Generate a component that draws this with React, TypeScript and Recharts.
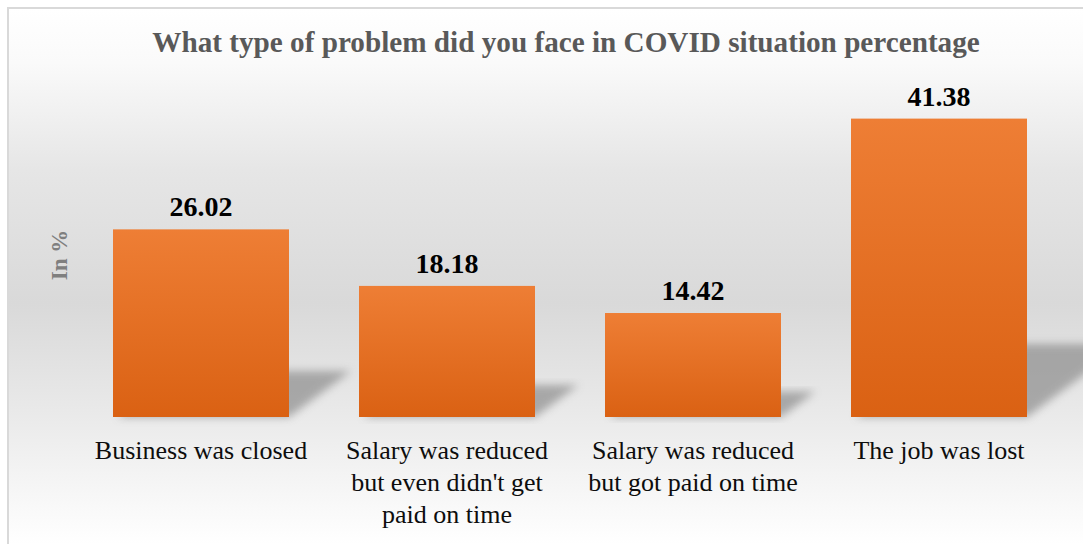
import React from "react";
import { BarChart, Bar, XAxis, YAxis, LabelList } from "recharts";

// problem types and share of respondents (%)
const categories = [
  "Business was closed",
  "Salary was reduced but even didn't get paid on time",
  "Salary was reduced but got paid on time",
  "The job was lost",
];
const percentages = [26.02, 18.18, 14.42, 41.38];

const data = categories.map((name, i) => ({ name, value: percentages[i] }));

const FONT = "'Liberation Serif', 'Times New Roman', serif";

// greedy word wrap, ~20 chars per line
const wrap = (text: string, max = 20): string[] => {
  const lines: string[] = [];
  let cur = "";
  text.split(" ").forEach((w) => {
    const next = cur ? cur + " " + w : w;
    if (next.length > max && cur) {
      lines.push(cur);
      cur = w;
    } else {
      cur = next;
    }
  });
  if (cur) lines.push(cur);
  return lines;
};

const CategoryTick = ({ x, y, payload }: any) => {
  const lines = wrap(payload.value);
  return (
    <text x={x} y={y} textAnchor="middle" fontFamily={FONT} fontSize={26} fill="#0d0d0d">
      {lines.map((l, i) => (
        <tspan key={i} x={x} dy={i === 0 ? 34 : 32}>
          {l}
        </tspan>
      ))}
    </text>
  );
};

// bar with a perspective shadow falling back to the right
const ShadowBar = (props: any) => {
  const { x, y, width, height } = props;
  if (!height) return null;
  const base = y + height;
  const dx = height * 0.33;
  const dy = height * 0.245;
  const pts = [
    [x + 4, base],
    [x + width, base],
    [x + width + dx, base - dy],
    [x + dx + 4, base - dy],
  ]
    .map((p) => p.join(","))
    .join(" ");
  return (
    <g>
      <polygon points={pts} fill="#8c8c8c" opacity={0.7} filter="url(#shadowBlur)" />
      <rect x={x} y={y} width={width} height={height} fill="url(#barGrad)" />
    </g>
  );
};

export default function App() {
  return (
    <div>
      <style>{"body{margin:0;overflow:hidden}"}</style>
      <svg width={0} height={0} style={{ position: "absolute" }}>
        <defs>
          <linearGradient id="barGrad" x1="0" y1="0" x2="0" y2="1">
            <stop offset="0%" stopColor="#ee7e35" />
            <stop offset="100%" stopColor="#da6113" />
          </linearGradient>
          <filter id="shadowBlur" x="-20%" y="-20%" width="140%" height="140%">
            <feGaussianBlur stdDeviation="4" />
          </filter>
        </defs>
      </svg>
      <div
        style={{
          position: "absolute",
          left: 7,
          top: 7,
          width: 1074,
          height: 535,
          borderTop: "2px solid #d9d9d9",
          borderLeft: "2px solid #d9d9d9",
          background:
            "linear-gradient(to bottom, #ffffff 0%, #fafafa 10%, #e6e6e6 30%, #d9d9d9 55%, #e9e9e9 75%, #ffffff 100%)",
        }}
      >
        <div
          style={{
            position: "absolute",
            left: 0,
            width: 1114,
            top: 17,
            textAlign: "center",
            fontFamily: FONT,
            fontWeight: "bold",
            fontSize: 29.2,
            color: "#595959",
          }}
        >
          What type of problem did you face in COVID situation percentage
        </div>
        <div
          style={{
            position: "absolute",
            left: 51 - 40,
            top: 246 - 15,
            width: 80,
            height: 30,
            lineHeight: "30px",
            textAlign: "center",
            transform: "rotate(-90deg)",
            fontFamily: FONT,
            fontWeight: "bold",
            fontSize: 23,
            color: "#7f7f7f",
          }}
        >
          In %
        </div>
        <BarChart
          width={1074}
          height={535}
          data={data}
          margin={{ top: 83.5, right: 21, bottom: 8, left: 69 }}
          style={{ position: "absolute", left: 0, top: 0 }}
        >
          <YAxis hide domain={[0, 45]} />
          <XAxis
            dataKey="name"
            axisLine={false}
            tickLine={false}
            interval={0}
            height={119}
            tick={<CategoryTick />}
          />
          <Bar
            dataKey="value"
            barSize={176}
            shape={<ShadowBar />}
            isAnimationActive={false}
          >
            <LabelList
              dataKey="value"
              position="top"
              offset={13}
              fontFamily={FONT}
              fontWeight="bold"
              fontSize={28}
              fill="#000000"
              formatter={(v: any) => Number(v).toFixed(2)}
            />
          </Bar>
        </BarChart>
      </div>
    </div>
  );
}
